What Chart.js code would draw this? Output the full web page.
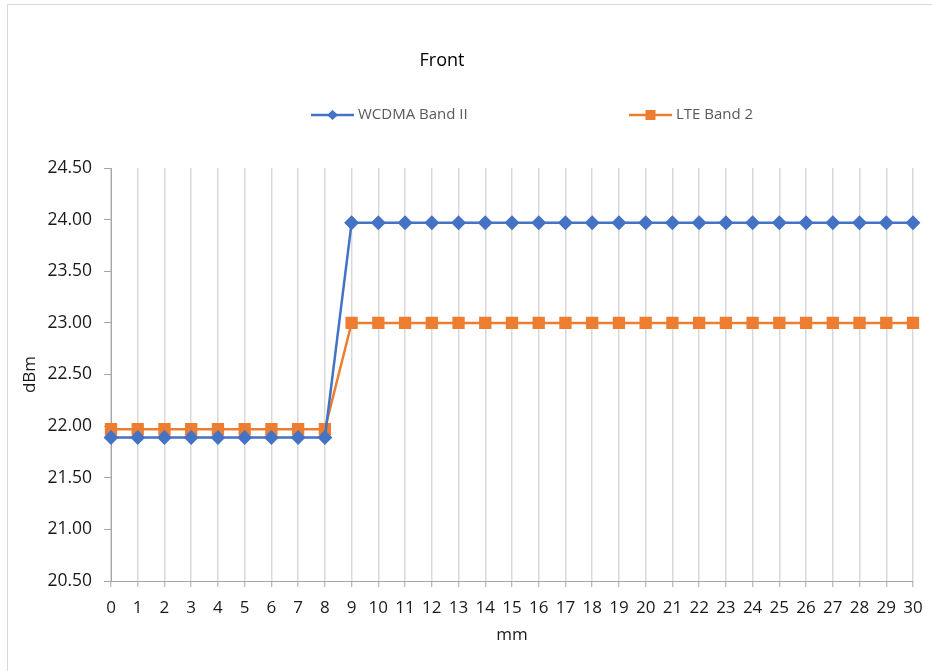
<!DOCTYPE html>
<html>
<head>
<meta charset="utf-8">
<script src="https://cdn.jsdelivr.net/npm/chart.js@4.4.1/dist/chart.umd.min.js"></script>
<style>
body { margin: 0; background: #fff; }
#wrap { position: relative; width: 932px; height: 671px; overflow: hidden; }
#frame { position: absolute; left: 7px; top: 4px; width: 940px; height: 700px; border: 1px solid #d9d9d9; box-sizing: border-box; }
canvas { position: absolute; left: 0; top: 0; }
</style>
</head>
<body>
<div id="wrap">
  <div id="frame"></div>
  <canvas id="myChart" width="932" height="671"></canvas>
</div>
<script>
// datos
const chartTitle = 'Front';
const mmLabels = ['0','1','2','3','4','5','6','7','8','9','10','11','12','13','14','15',
                  '16','17','18','19','20','21','22','23','24','25','26','27','28','29','30'];
const wcdmaBand2 = [21.89, 21.89, 21.89, 21.89, 21.89, 21.89, 21.89, 21.89, 21.89,
                    23.97, 23.97, 23.97, 23.97, 23.97, 23.97, 23.97, 23.97, 23.97, 23.97, 23.97,
                    23.97, 23.97, 23.97, 23.97, 23.97, 23.97, 23.97, 23.97, 23.97, 23.97, 23.97];
const lteBand2 = [21.97, 21.97, 21.97, 21.97, 21.97, 21.97, 21.97, 21.97, 21.97,
                  23.00, 23.00, 23.00, 23.00, 23.00, 23.00, 23.00, 23.00, 23.00, 23.00, 23.00,
                  23.00, 23.00, 23.00, 23.00, 23.00, 23.00, 23.00, 23.00, 23.00, 23.00, 23.00];
const yMin = 20.5;
const yMax = 24.5;
const yStep = 0.5;

const fontFamily = '"Open Sans", sans-serif';
const axisGray = '#a6a6a6';

// titulo y leyenda dibujados a mano (posiciones como en Excel)
const frontHeader = {
  id: 'frontHeader',
  afterDraw(chart) {
    const ctx = chart.ctx;
    ctx.save();
    ctx.font = '18px ' + fontFamily;
    ctx.fillStyle = '#000';
    ctx.textAlign = 'center';
    ctx.textBaseline = 'middle';
    ctx.fillText(chartTitle, 442, 61);

    const starts = [311, 629];
    const y = 115;
    ctx.font = '15px ' + fontFamily;
    ctx.textAlign = 'left';
    chart.data.datasets.forEach((ds, i) => {
      const x = starts[i];
      ctx.strokeStyle = ds.borderColor;
      ctx.lineWidth = 2.5;
      ctx.beginPath();
      ctx.moveTo(x, y);
      ctx.lineTo(x + 43, y);
      ctx.stroke();
      const cx = x + 21.5;
      ctx.fillStyle = ds.borderColor;
      ctx.beginPath();
      if (ds.pointStyle === 'rectRot') {
        ctx.moveTo(cx - 5.5, y);
        ctx.lineTo(cx, y - 5);
        ctx.lineTo(cx + 5.5, y);
        ctx.lineTo(cx, y + 5);
        ctx.closePath();
      } else {
        ctx.rect(cx - 5, y - 5, 10, 10);
      }
      ctx.fill();
      ctx.fillStyle = '#595959';
      ctx.fillText(ds.label, x + 47, y);
    });
    ctx.restore();
  }
};

let myChart = document.getElementById('myChart').getContext('2d');

let lineChart = new Chart(myChart, {
  type: 'line',
  data: {
    labels: mmLabels,
    datasets: [{
      label: 'WCDMA Band II',
      data: wcdmaBand2,
      borderColor: '#4472c4',
      backgroundColor: '#4472c4',
      borderWidth: 2.5,
      pointStyle: 'rectRot',
      pointRadius: 7.5,
      pointBorderWidth: 0,
      tension: 0
    }, {
      label: 'LTE Band 2',
      data: lteBand2,
      borderColor: '#ed7d31',
      backgroundColor: '#ed7d31',
      borderWidth: 2.5,
      pointStyle: 'rect',
      pointRadius: 8.7,
      pointBorderWidth: 0,
      tension: 0
    }]
  },
  options: {
    responsive: false,
    animation: false,
    layout: { padding: { left: 18, right: 19, top: 168, bottom: 8 } },
    plugins: {
      legend: { display: false },
      title: { display: false },
      tooltip: { enabled: false }
    },
    scales: {
      x: {
        type: 'category',
        offset: false,
        afterFit(scale) {
          scale.height = 82;
          scale.paddingRight = 0;
          scale.paddingLeft = 0;
        },
        grid: {
          color: '#d9d9d9',
          lineWidth: 1.5,
          drawTicks: true,
          tickLength: 6,
          tickColor: axisGray,
          tickWidth: 1
        },
        border: { color: axisGray, width: 1 },
        ticks: {
          autoSkip: false,
          maxRotation: 0,
          padding: 11,
          color: '#1a1a1a',
          font: { family: fontFamily, size: 17 }
        },
        title: {
          display: true,
          text: 'mm',
          color: '#1a1a1a',
          padding: { top: 4, bottom: 18 },
          font: { family: fontFamily, size: 17 }
        }
      },
      y: {
        min: yMin,
        max: yMax,
        afterFit(scale) { scale.width = 93; },
        grid: {
          drawOnChartArea: false,
          drawTicks: true,
          tickLength: 7,
          tickColor: axisGray
        },
        border: { color: axisGray, width: 1 },
        ticks: {
          stepSize: yStep,
          padding: 12,
          color: '#1a1a1a',
          font: { family: fontFamily, size: 17.5 },
          callback: v => Number(v).toFixed(2)
        },
        title: {
          display: true,
          text: 'dBm',
          color: '#1a1a1a',
          padding: { top: 2, bottom: 0 },
          font: { family: fontFamily, size: 17 }
        }
      }
    }
  },
  plugins: [frontHeader]
});
</script>
</body>
</html>
